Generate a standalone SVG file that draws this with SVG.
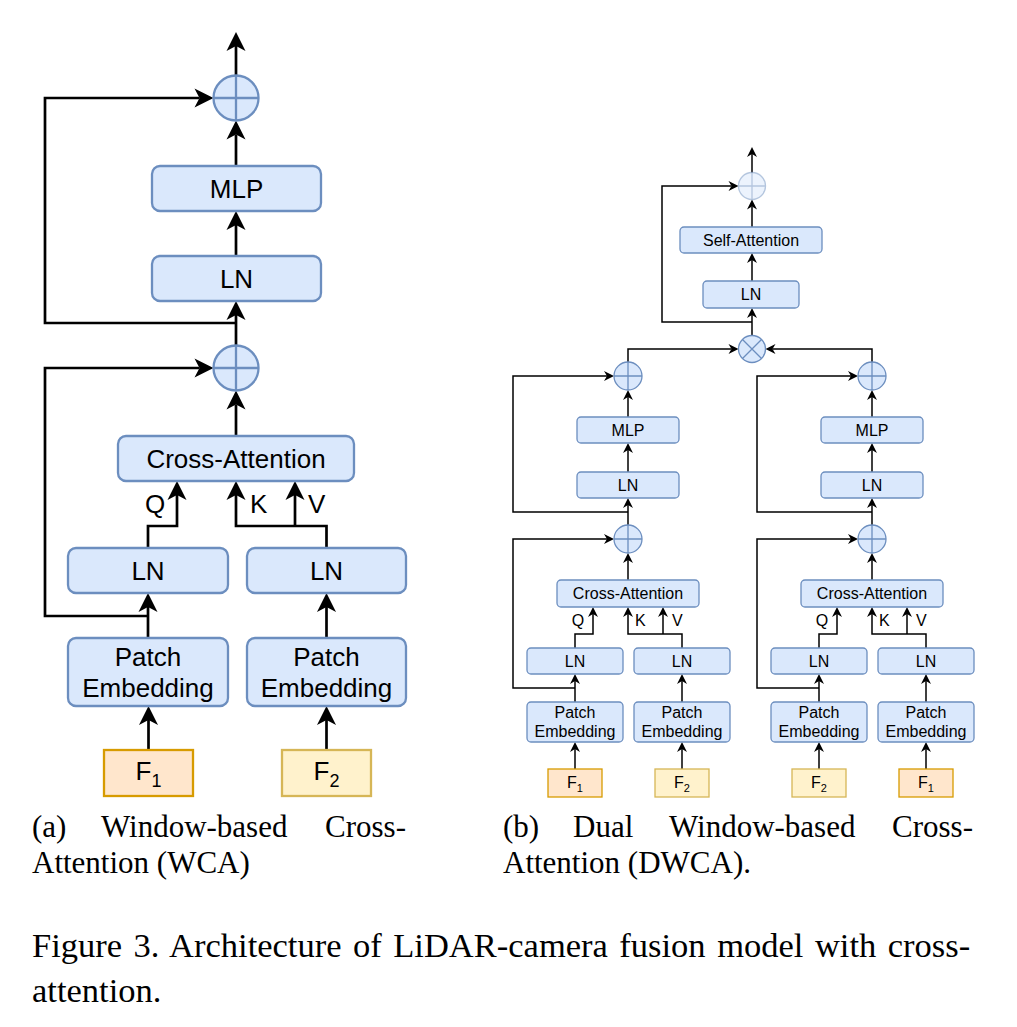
<svg xmlns="http://www.w3.org/2000/svg" width="1017" height="1027" viewBox="0 0 1017 1027">
<style>
.box{fill:#dae8fc;stroke:#6c8ebf}
.bb{stroke-width:2.3}
.sb{stroke-width:1.3}
.fa{fill:#ffe6cc;stroke:#d79b00}
.fb{fill:#fff2cc;stroke:#d6b656}
.cx{fill:none;stroke:#6c8ebf}
.t{font-family:"Liberation Sans",Arial,Helvetica,sans-serif;fill:#000;text-anchor:middle}
.tl{font-size:26px}
.ts{font-size:16px}
.cap{font-family:"Liberation Serif","Times New Roman",serif;fill:#000}
.cbig{fill:none;stroke:#000;stroke-width:2.7}
.csm{fill:none;stroke:#000;stroke-width:1.5}
</style>
<defs>
<marker id="ab" viewBox="-20 -10 21 20" markerWidth="21" markerHeight="20" refX="-14" refY="0" orient="auto" markerUnits="userSpaceOnUse" overflow="visible">
<path d="M0,0 L-19,-9.5 L-14,0 L-19,9.5 Z" fill="#000"/>
</marker>
<marker id="as" viewBox="-11 -6 12 12" markerWidth="12" markerHeight="12" refX="-7" refY="0" orient="auto" markerUnits="userSpaceOnUse" overflow="visible">
<path d="M0,0 L-10,-5 L-7,0 L-10,5 Z" fill="#000"/>
</marker>
</defs>

<!-- connectors -->
<g id="connectors">
<g class="cbig" marker-end="url(#ab)">
<path d="M236,75.5 V46"/>
<path d="M236,166 V134.5"/>
<path d="M236,256 V225"/>
<path d="M236,345.5 V315"/>
<path d="M236,323 H45 V98 H199.5"/>
<path d="M236,436 V404.5"/>
<path d="M148,616 H45 V368 H199.5"/>
<path d="M148,548 V526 H177 V495"/>
<path d="M326.5,548 V526 H236 V495"/>
<path d="M295,526 V495"/>
<path d="M148,638 V607"/>
<path d="M326.5,638 V607"/>
<path d="M148.5,750 V720"/>
<path d="M326.5,750 V720"/>
</g>
<g class="csm" marker-end="url(#as)">
<path d="M752,172.5 V154"/>
<path d="M752,227 V206.5"/>
<path d="M752,281 V260"/>
<path d="M752,335.5 V315"/>
<path d="M752,322 H662 V186 H731.5"/>
<path d="M628,362 V349 H731.5"/>
<path d="M872,362 V349 H772.5"/>
<path d="M628,417 V397"/>
<path d="M628,472 V450"/>
<path d="M628,525 V505"/>
<path d="M628,512 H513 V376 H607"/>
<path d="M628,580 V560"/>
<path d="M575,688 H513 V539 H607"/>
<path d="M575,648 V634 H593 V614"/>
<path d="M682,648 V634 H628 V614"/>
<path d="M663,634 V614"/>
<path d="M575,702 V681"/>
<path d="M682,702 V681"/>
<path d="M575,769 V749"/>
<path d="M682,769 V749"/>
<path d="M872,417 V397"/>
<path d="M872,472 V450"/>
<path d="M872,525 V505"/>
<path d="M872,512 H757 V376 H851"/>
<path d="M872,580 V560"/>
<path d="M819,688 H757 V539 H851"/>
<path d="M819,648 V634 H837 V614"/>
<path d="M926,648 V634 H872 V614"/>
<path d="M907,634 V614"/>
<path d="M819,702 V681"/>
<path d="M926,702 V681"/>
<path d="M819,769 V749"/>
<path d="M926,769 V749"/>
</g>
</g>

<!-- (a) WCA -->
<g id="a-add-out"><circle class="box bb" cx="236" cy="98" r="22.5"/><path class="cx" stroke-width="2.3" d="M213.5,98 H258.5 M236,75.5 V120.5"/></g>
<g id="a-mlp"><rect class="box bb" x="152" y="166" width="169" height="45" rx="8"/><text class="t tl" x="236.5" y="198">MLP</text></g>
<g id="a-ln3"><rect class="box bb" x="152" y="256" width="169" height="45" rx="8"/><text class="t tl" x="236.5" y="288">LN</text></g>
<g id="a-add-1"><circle class="box bb" cx="236" cy="368" r="22.5"/><path class="cx" stroke-width="2.3" d="M213.5,368 H258.5 M236,345.5 V390.5"/></g>
<g id="a-ca"><rect class="box bb" x="118" y="436" width="236" height="45" rx="8"/><text class="t tl" x="236" y="468">Cross-Attention</text></g>
<g id="a-qkv"><text class="t tl" x="155" y="513">Q</text><text class="t tl" x="250" y="513" text-anchor="start" style="text-anchor:start">K</text><text class="t tl" x="308" y="513" style="text-anchor:start">V</text></g>
<g id="a-ln1"><rect class="box bb" x="68" y="548" width="160" height="45" rx="8"/><text class="t tl" x="148" y="580">LN</text></g>
<g id="a-ln2"><rect class="box bb" x="247" y="548" width="159" height="45" rx="8"/><text class="t tl" x="326.5" y="580">LN</text></g>
<g id="a-pe1"><rect class="box bb" x="68" y="638" width="160" height="68" rx="8"/><text class="t tl" x="148" y="666">Patch</text><text class="t tl" x="148" y="697">Embedding</text></g>
<g id="a-pe2"><rect class="box bb" x="247" y="638" width="159" height="68" rx="8"/><text class="t tl" x="326.5" y="666">Patch</text><text class="t tl" x="326.5" y="697">Embedding</text></g>
<g id="a-f1"><rect class="fa" stroke-width="2.3" x="104" y="750" width="89" height="46"/><text class="t" x="148.5" y="780" font-size="26">F<tspan font-size="18" dy="7">1</tspan></text></g>
<g id="a-f2"><rect class="fb" stroke-width="2.3" x="282" y="750" width="89" height="46"/><text class="t" x="326.5" y="780" font-size="26">F<tspan font-size="18" dy="7">2</tspan></text></g>

<!-- (b) DWCA -->
<g id="b-add-out" opacity="0.5"><circle class="box sb" cx="752" cy="186" r="13.5"/><path class="cx" stroke-width="1.3" d="M738.5,186 H765.5 M752,172.5 V199.5"/></g>
<g id="b-sa"><rect class="box sb" x="680" y="227" width="142" height="26" rx="4"/><text class="t ts" x="751" y="246">Self-Attention</text></g>
<g id="b-ln"><rect class="box sb" x="703" y="281" width="96" height="27" rx="4"/><text class="t ts" x="751" y="300">LN</text></g>
<g id="b-mul"><circle class="box sb" cx="752" cy="349" r="13.5"/><path class="cx" stroke-width="1.3" d="M742.5,339.5 L761.5,358.5 M761.5,339.5 L742.5,358.5"/></g>

<g id="b-left">
<g id="bl-add2"><circle class="box sb" cx="628" cy="376" r="14"/><path class="cx" stroke-width="1.3" d="M614,376 H642 M628,362 V390"/></g>
<g id="bl-mlp"><rect class="box sb" x="577" y="417" width="102" height="26" rx="4"/><text class="t ts" x="628" y="436">MLP</text></g>
<g id="bl-ln3"><rect class="box sb" x="577" y="472" width="102" height="26" rx="4"/><text class="t ts" x="628" y="491">LN</text></g>
<g id="bl-add1"><circle class="box sb" cx="628" cy="539" r="14"/><path class="cx" stroke-width="1.3" d="M614,539 H642 M628,525 V553"/></g>
<g id="bl-ca"><rect class="box sb" x="557" y="580" width="142" height="27" rx="4"/><text class="t ts" x="628" y="599">Cross-Attention</text></g>
<g id="bl-qkv"><text class="t ts" x="578" y="626">Q</text><text class="t ts" x="635" y="626" style="text-anchor:start">K</text><text class="t ts" x="672" y="626" style="text-anchor:start">V</text></g>
<g id="bl-ln1"><rect class="box sb" x="527" y="648" width="96" height="26" rx="4"/><text class="t ts" x="575" y="667">LN</text></g>
<g id="bl-ln2"><rect class="box sb" x="634" y="648" width="96" height="26" rx="4"/><text class="t ts" x="682" y="667">LN</text></g>
<g id="bl-pe1"><rect class="box sb" x="527" y="702" width="96" height="40" rx="4"/><text class="t ts" x="575" y="718">Patch</text><text class="t ts" x="575" y="737">Embedding</text></g>
<g id="bl-pe2"><rect class="box sb" x="634" y="702" width="96" height="40" rx="4"/><text class="t ts" x="682" y="718">Patch</text><text class="t ts" x="682" y="737">Embedding</text></g>
<g id="bl-f1"><rect class="fa" stroke-width="1.3" x="548" y="769" width="54" height="28"/><text class="t" x="575" y="788" font-size="16">F<tspan font-size="11" dy="4">1</tspan></text></g>
<g id="bl-f2"><rect class="fb" stroke-width="1.3" x="655" y="769" width="54" height="28"/><text class="t" x="682" y="788" font-size="16">F<tspan font-size="11" dy="4">2</tspan></text></g>
</g>

<g id="b-right">
<g id="br-add2"><circle class="box sb" cx="872" cy="376" r="14"/><path class="cx" stroke-width="1.3" d="M858,376 H886 M872,362 V390"/></g>
<g id="br-mlp"><rect class="box sb" x="821" y="417" width="102" height="26" rx="4"/><text class="t ts" x="872" y="436">MLP</text></g>
<g id="br-ln3"><rect class="box sb" x="821" y="472" width="102" height="26" rx="4"/><text class="t ts" x="872" y="491">LN</text></g>
<g id="br-add1"><circle class="box sb" cx="872" cy="539" r="14"/><path class="cx" stroke-width="1.3" d="M858,539 H886 M872,525 V553"/></g>
<g id="br-ca"><rect class="box sb" x="801" y="580" width="142" height="27" rx="4"/><text class="t ts" x="872" y="599">Cross-Attention</text></g>
<g id="br-qkv"><text class="t ts" x="822" y="626">Q</text><text class="t ts" x="879" y="626" style="text-anchor:start">K</text><text class="t ts" x="916" y="626" style="text-anchor:start">V</text></g>
<g id="br-ln1"><rect class="box sb" x="771" y="648" width="96" height="26" rx="4"/><text class="t ts" x="819" y="667">LN</text></g>
<g id="br-ln2"><rect class="box sb" x="878" y="648" width="96" height="26" rx="4"/><text class="t ts" x="926" y="667">LN</text></g>
<g id="br-pe1"><rect class="box sb" x="771" y="702" width="96" height="40" rx="4"/><text class="t ts" x="819" y="718">Patch</text><text class="t ts" x="819" y="737">Embedding</text></g>
<g id="br-pe2"><rect class="box sb" x="878" y="702" width="96" height="40" rx="4"/><text class="t ts" x="926" y="718">Patch</text><text class="t ts" x="926" y="737">Embedding</text></g>
<g id="br-f2"><rect class="fb" stroke-width="1.3" x="792" y="769" width="54" height="28"/><text class="t" x="819" y="788" font-size="16">F<tspan font-size="11" dy="4">2</tspan></text></g>
<g id="br-f1"><rect class="fa" stroke-width="1.3" x="899" y="769" width="54" height="28"/><text class="t" x="926" y="788" font-size="16">F<tspan font-size="11" dy="4">1</tspan></text></g>
</g>

<!-- captions -->
<g id="captions" class="cap">
<text font-size="31" y="837"><tspan x="32">(a)</tspan><tspan x="101">Window-based</tspan><tspan x="325">Cross-</tspan></text>
<text font-size="31" x="32" y="873">Attention (WCA)</text>
<text font-size="31" y="837"><tspan x="503">(b)</tspan><tspan x="573">Dual</tspan><tspan x="669">Window-based</tspan><tspan x="892">Cross-</tspan></text>
<text font-size="31" x="503" y="873">Attention (DWCA).</text>
<text font-size="34.5" x="32" y="957" word-spacing="2.9">Figure 3. Architecture of LiDAR-camera fusion model with cross-</text>
<text font-size="34.5" x="32" y="1002">attention.</text>
</g>
</svg>
